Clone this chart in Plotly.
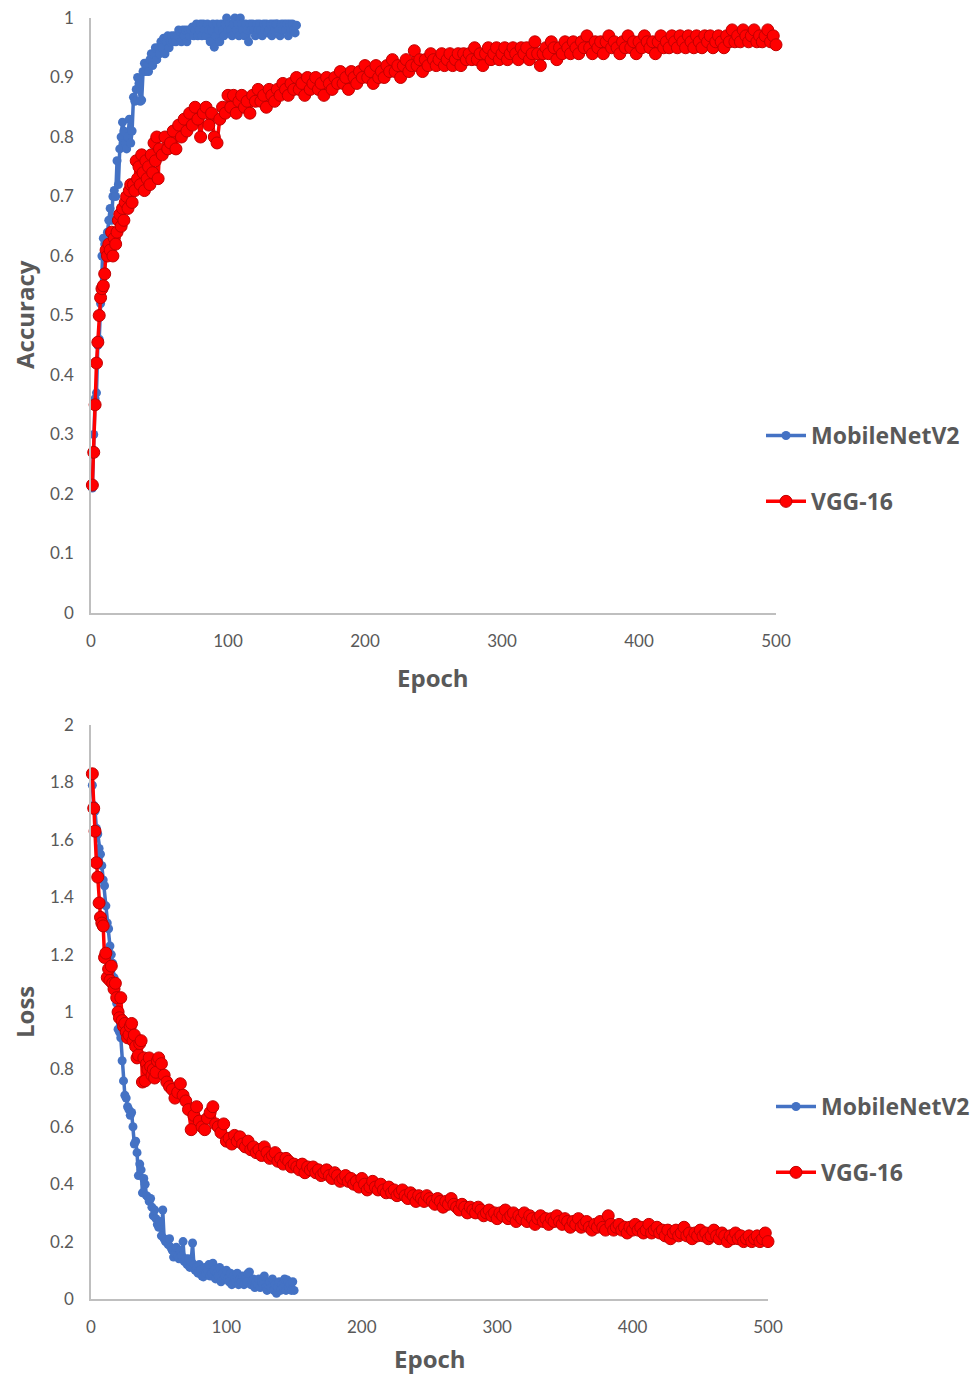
import plotly.graph_objects as go

# ---------------- data ----------------
mob_epochs = list(range(1, 151))
mob_acc = [
    0.21, 0.30, 0.36, 0.37, 0.45, 0.46, 0.52, 0.60, 0.63, 0.62,
    0.61, 0.64, 0.66, 0.68, 0.66, 0.70, 0.71, 0.70, 0.76, 0.72,
    0.78, 0.80, 0.825, 0.81, 0.79, 0.78, 0.80, 0.83, 0.79, 0.81,
    0.867, 0.86, 0.88, 0.90, 0.89, 0.86, 0.862, 0.91, 0.924, 0.91,
    0.92, 0.91, 0.93, 0.94, 0.92, 0.94, 0.95, 0.93, 0.95, 0.94,
    0.96, 0.95, 0.966, 0.94, 0.96, 0.97, 0.95, 0.96, 0.97, 0.96,
    0.97, 0.96, 0.97, 0.98, 0.977, 0.96, 0.98, 0.97, 0.98, 0.96,
    0.98, 0.97, 0.98, 0.985, 0.97, 0.98, 0.99, 0.97, 0.98, 0.99,
    0.97, 0.99, 0.98, 0.97, 0.99, 0.98, 0.96, 0.98, 0.99, 0.951,
    0.97, 0.99, 0.98, 0.96, 0.99, 0.98, 0.97, 0.99, 1.00, 0.98,
    0.99, 0.98, 0.97, 0.99, 1.00, 0.98, 0.99, 0.97, 1.00, 0.99,
    0.98, 0.97, 0.99, 0.98, 0.96, 0.99, 0.98, 0.99, 0.98, 0.97,
    0.99, 0.98, 0.99, 0.98, 0.97, 0.99, 0.98, 0.99, 0.975, 0.98,
    0.99, 0.97, 0.99, 0.98, 0.99, 0.99, 0.98, 0.97, 0.99, 0.98,
    0.99, 0.98, 0.99, 0.97, 0.99, 0.98, 0.99, 0.98, 0.975, 0.988,
]
mob_loss = [
    1.79, 1.72, 1.70, 1.64, 1.62, 1.57, 1.55, 1.51, 1.46, 1.44,
    1.37, 1.31, 1.29, 1.23, 1.20, 1.17, 1.12, 1.08, 1.03, 0.94,
    0.93, 0.91, 0.83, 0.76, 0.71, 0.70, 0.67, 0.66, 0.64, 0.65,
    0.60, 0.54, 0.55, 0.51, 0.43, 0.47, 0.45, 0.37, 0.42, 0.40,
    0.36, 0.355, 0.34, 0.35, 0.32, 0.29, 0.31, 0.28, 0.26, 0.25,
    0.27, 0.22, 0.31, 0.21, 0.20, 0.20, 0.19, 0.21, 0.18, 0.17,
    0.146, 0.16, 0.18, 0.15, 0.14, 0.17, 0.15, 0.20, 0.13, 0.14,
    0.12, 0.14, 0.11, 0.13, 0.195, 0.12, 0.10, 0.11, 0.09, 0.12,
    0.10, 0.08, 0.077, 0.11, 0.09, 0.10, 0.12, 0.08, 0.09, 0.125,
    0.10, 0.07, 0.09, 0.08, 0.11, 0.06, 0.09, 0.07, 0.08, 0.10,
    0.07, 0.06, 0.09, 0.05, 0.08, 0.07, 0.06, 0.09, 0.05, 0.07,
    0.06, 0.08, 0.05, 0.07, 0.06, 0.09, 0.094, 0.05, 0.06, 0.07,
    0.04, 0.06, 0.05, 0.07, 0.04, 0.06, 0.05, 0.08, 0.04, 0.03,
    0.05, 0.06, 0.04, 0.07, 0.03, 0.05, 0.02, 0.04, 0.06, 0.03,
    0.05, 0.04, 0.07, 0.03, 0.066, 0.04, 0.05, 0.03, 0.06, 0.03,
]

vgg_epochs = list(range(1, 51)) + list(range(52, 501, 2))
vgg_acc = [
    0.215, 0.27, 0.35, 0.42, 0.455, 0.50, 0.53, 0.545, 0.55, 0.57,
    0.61, 0.60, 0.62, 0.61, 0.64, 0.60, 0.63, 0.62, 0.64, 0.66,
    0.67, 0.65, 0.68, 0.66, 0.69, 0.70, 0.68, 0.71, 0.72, 0.69,
    0.72, 0.71, 0.76, 0.73, 0.75, 0.72, 0.77, 0.74, 0.71, 0.76,
    0.73, 0.75, 0.72, 0.77, 0.74, 0.79, 0.76, 0.80, 0.73, 0.78,
    # 52..100 step 2
    0.77, 0.80, 0.78, 0.79, 0.81, 0.78, 0.82, 0.80, 0.83, 0.81,
    0.84, 0.82, 0.85, 0.83, 0.80, 0.84, 0.85, 0.82, 0.84, 0.80,
    0.79, 0.83, 0.85, 0.84, 0.87,
    # 102..150
    0.85, 0.87, 0.84, 0.86, 0.87, 0.85, 0.86, 0.84, 0.87, 0.86,
    0.88, 0.86, 0.87, 0.85, 0.88, 0.87, 0.86, 0.88, 0.87, 0.89,
    0.88, 0.87, 0.89, 0.88, 0.90,
    # 152..200
    0.88, 0.89, 0.87, 0.90, 0.88, 0.89, 0.90, 0.88, 0.89, 0.87,
    0.90, 0.89, 0.88, 0.90, 0.89, 0.91, 0.89, 0.90, 0.88, 0.91,
    0.90, 0.89, 0.91, 0.90, 0.92,
    # 202..250
    0.90, 0.91, 0.89, 0.92, 0.90, 0.91, 0.90, 0.92, 0.91, 0.93,
    0.91, 0.92, 0.90, 0.92, 0.93, 0.91, 0.92, 0.945, 0.92, 0.93,
    0.91, 0.93, 0.92, 0.94, 0.93,
    # 252..300
    0.92, 0.93, 0.94, 0.92, 0.93, 0.94, 0.92, 0.93, 0.94, 0.92,
    0.94, 0.93, 0.94, 0.93, 0.95, 0.93, 0.94, 0.92, 0.94, 0.95,
    0.93, 0.94, 0.95, 0.93, 0.94,
    # 302..350
    0.95, 0.93, 0.94, 0.95, 0.94, 0.93, 0.95, 0.94, 0.95, 0.93,
    0.94, 0.96, 0.94, 0.92, 0.94, 0.95, 0.94, 0.96, 0.95, 0.93,
    0.95, 0.94, 0.96, 0.95, 0.94,
    # 352..400
    0.96, 0.95, 0.94, 0.96, 0.95, 0.97, 0.95, 0.94, 0.96, 0.95,
    0.96, 0.94, 0.96, 0.97, 0.95, 0.96, 0.95, 0.94, 0.96, 0.95,
    0.97, 0.95, 0.96, 0.94, 0.96,
    # 402..450
    0.95, 0.97, 0.96, 0.95, 0.96, 0.94, 0.96, 0.97, 0.95, 0.96,
    0.95, 0.97, 0.96, 0.95, 0.97, 0.96, 0.95, 0.97, 0.96, 0.95,
    0.97, 0.96, 0.95, 0.97, 0.96,
    # 452..500
    0.97, 0.95, 0.96, 0.97, 0.96, 0.95, 0.97, 0.96, 0.98, 0.96,
    0.97, 0.96, 0.98, 0.97, 0.96, 0.97, 0.98, 0.96, 0.97, 0.96,
    0.97, 0.98, 0.96, 0.97, 0.955,
]
vgg_loss = [
    1.83, 1.71, 1.63, 1.52, 1.47, 1.38, 1.33, 1.31, 1.30, 1.19,
    1.205, 1.12, 1.15, 1.11, 1.16, 1.10, 1.08, 1.10, 1.05, 1.00,
    0.98, 1.05, 0.97, 0.95, 0.96, 0.93, 0.91, 0.92, 0.95, 0.96,
    0.90, 0.92, 0.88, 0.84, 0.85, 0.89, 0.90, 0.756, 0.84, 0.76,
    0.82, 0.80, 0.84, 0.81, 0.78, 0.80, 0.77, 0.79, 0.83, 0.84,
    # 52..100 step 2
    0.82, 0.78, 0.756, 0.74, 0.73, 0.70, 0.72, 0.75, 0.71, 0.69,
    0.66, 0.59, 0.64, 0.67, 0.62, 0.60, 0.59, 0.63, 0.65, 0.67,
    0.61, 0.60, 0.58, 0.61, 0.55,
    # 102..150
    0.56, 0.54, 0.57, 0.55, 0.565, 0.54, 0.53, 0.55, 0.52, 0.53,
    0.51, 0.52, 0.50, 0.53, 0.51, 0.49, 0.50, 0.51, 0.48, 0.49,
    0.47, 0.49, 0.48, 0.46, 0.47,
    # 152..200
    0.46, 0.45, 0.47, 0.44, 0.46, 0.45, 0.46, 0.44, 0.45, 0.43,
    0.44, 0.45, 0.43, 0.42, 0.44, 0.43, 0.41, 0.42, 0.43, 0.41,
    0.42, 0.40, 0.41, 0.39, 0.42,
    # 202..250
    0.40, 0.38, 0.39, 0.41, 0.39, 0.38, 0.40, 0.38, 0.37, 0.39,
    0.37, 0.38, 0.36, 0.37, 0.38, 0.36, 0.35, 0.37, 0.36, 0.34,
    0.36, 0.35, 0.34, 0.36, 0.35,
    # 252..300
    0.34, 0.33, 0.35, 0.34, 0.32, 0.34, 0.33, 0.35, 0.33, 0.32,
    0.31, 0.33, 0.32, 0.30, 0.32, 0.31, 0.30, 0.32, 0.31, 0.29,
    0.30, 0.31, 0.29, 0.30, 0.28,
    # 302..350
    0.30, 0.29, 0.31, 0.28, 0.29, 0.30, 0.27, 0.29, 0.28, 0.30,
    0.27, 0.29, 0.28, 0.26, 0.28, 0.29, 0.27, 0.28, 0.26, 0.28,
    0.27, 0.29, 0.27, 0.26, 0.28,
    # 352..400
    0.27, 0.25, 0.27, 0.26, 0.28, 0.25, 0.26, 0.27, 0.25, 0.24,
    0.26, 0.25, 0.27, 0.25, 0.24, 0.29, 0.26, 0.24, 0.25, 0.26,
    0.24, 0.25, 0.23, 0.25, 0.24,
    # 402..450
    0.26, 0.24, 0.25, 0.23, 0.24, 0.26, 0.23, 0.24, 0.25, 0.23,
    0.24, 0.22, 0.24, 0.21, 0.23, 0.24, 0.22, 0.23, 0.25, 0.22,
    0.23, 0.21, 0.23, 0.22, 0.24,
    # 452..500
    0.22, 0.23, 0.21, 0.22, 0.24, 0.22, 0.21, 0.23, 0.22, 0.20,
    0.22, 0.21, 0.23, 0.21, 0.22, 0.20, 0.21, 0.22, 0.20, 0.21,
    0.22, 0.20, 0.21, 0.23, 0.20,
]

series_names = ["MobileNetV2", "VGG-16"]
x_title = "Epoch"
y_titles = ["Accuracy", "Loss"]

# ---------------- styling ----------------
W, H = 973, 1378
BLUE = "#4472C4"
RED = "#FF0000"
RED_EDGE = "#C00000"
GREY_TXT = "#595959"
AXIS_CLR = "#BFBFBF"
FONT = "Lato, 'Open Sans', sans-serif"
BOLD_FONT = "'Open Sans', 'Liberation Sans', sans-serif"

def px_x(p):
    return p / W

def px_y(p):
    return 1 - p / H

fig = go.Figure()

def add_pair(xa, ya, leg, y_mob, y_vgg, tag):
    fig.add_trace(go.Scatter(
        x=mob_epochs, y=y_mob, name=series_names[0], mode="lines+markers",
        line=dict(color=BLUE, width=3.5),
        marker=dict(color=BLUE, size=9),
        xaxis=xa, yaxis=ya, legend=leg, legendgroup=tag + "m", cliponaxis=False,
    ))
    fig.add_trace(go.Scatter(
        x=vgg_epochs, y=y_vgg, name=series_names[1], mode="lines+markers",
        line=dict(color=RED, width=3.5),
        marker=dict(color=RED, size=12, line=dict(color=RED_EDGE, width=1)),
        xaxis=xa, yaxis=ya, legend=leg, legendgroup=tag + "v", cliponaxis=False,
    ))

add_pair("x", "y", "legend", mob_acc, vgg_acc, "a")
add_pair("x2", "y2", "legend2", mob_loss, vgg_loss, "l")

axis_common = dict(
    showline=True, linecolor=AXIS_CLR, linewidth=1.5,
    showgrid=False, zeroline=False, ticks="", automargin=False,
    tickfont=dict(family=FONT, size=17, color=GREY_TXT),
    fixedrange=True,
)

legend_font = dict(family=BOLD_FONT, size=23, color=GREY_TXT, weight="bold")

fig.update_layout(
    template="none",
    width=W, height=H,
    margin=dict(l=0, r=0, t=0, b=0, pad=0, autoexpand=False),
    paper_bgcolor="white", plot_bgcolor="white",
    font=dict(family=FONT, color=GREY_TXT),
    xaxis=dict(axis_common, domain=[px_x(91), px_x(776)], range=[0, 500],
               dtick=100, anchor="y", ticklabelstandoff=12),
    yaxis=dict(axis_common, domain=[px_y(613), px_y(18)], range=[0, 1],
               dtick=0.1, anchor="x", ticklabelstandoff=12),
    xaxis2=dict(axis_common, domain=[px_x(91), px_x(768)], range=[0, 500],
                dtick=100, anchor="y2", ticklabelstandoff=12),
    yaxis2=dict(axis_common, domain=[px_y(1299), px_y(725)], range=[0, 2],
                dtick=0.2, anchor="x2", ticklabelstandoff=12),
    legend=dict(x=px_x(761), y=px_y(414), xanchor="left", yanchor="top",
                font=legend_font, tracegroupgap=33,
                bgcolor="rgba(0,0,0,0)", itemwidth=40),
    legend2=dict(x=px_x(771), y=px_y(1085), xanchor="left", yanchor="top",
                 font=legend_font, tracegroupgap=33,
                 bgcolor="rgba(0,0,0,0)", itemwidth=40),
    showlegend=True,
)

title_font = dict(family=BOLD_FONT, size=24, color=GREY_TXT, weight="bold")
fig.add_annotation(text=x_title, x=px_x(433), y=px_y(677), xref="paper", yref="paper",
                   showarrow=False, font=title_font, xanchor="center", yanchor="middle")
fig.add_annotation(text=x_title, x=px_x(430), y=px_y(1377), xref="paper", yref="paper",
                   showarrow=False, font=title_font, xanchor="center", yanchor="bottom")
fig.add_annotation(text=y_titles[0], x=px_x(24), y=px_y(315), xref="paper", yref="paper",
                   showarrow=False, font=title_font, textangle=-90,
                   xanchor="center", yanchor="middle")
fig.add_annotation(text=y_titles[1], x=px_x(24), y=px_y(1012), xref="paper", yref="paper",
                   showarrow=False, font=title_font, textangle=-90,
                   xanchor="center", yanchor="middle")

fig.write_html("out.html", post_script="document.body.style.margin='0';",
               config={"displayModeBar": False})
